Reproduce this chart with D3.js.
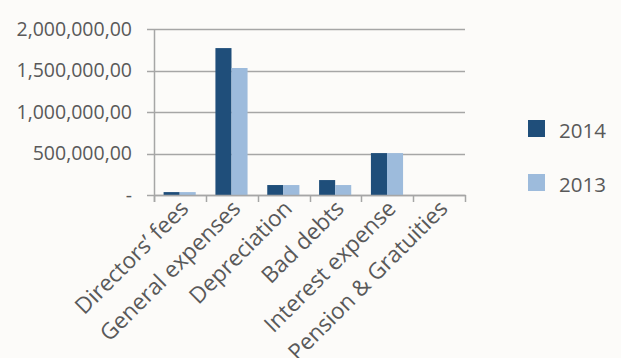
<!DOCTYPE html>
<html>
<head>
<meta charset="utf-8">
<script src="https://cdn.jsdelivr.net/npm/d3@7"></script>
<style>
  html, body { margin: 0; padding: 0; background: #fcfbf9; }
  svg { display: block; }
  text { font-family: "Open Sans", "Noto Sans", sans-serif; fill: #595959; }
</style>
</head>
<body>
<svg id="chart" width="621" height="358"></svg>
<script>
// Expense categories and yearly amounts
const categories = ["Directors’ fees", "General expenses", "Depreciation", "Bad debts", "Interest expense", "Pension & Gratuities"];
const seriesNames = ["2014", "2013"];
const values2014 = [35000, 1770000, 120000, 180000, 505000, 0];
const values2013 = [35000, 1530000, 120000, 120000, 505000, 0];
const yTicks = [0, 500000, 1000000, 1500000, 2000000];
const yTickLabels = ["-", "500,000,00", "1,000,000,00", "1,500,000,00", "2,000,000,00"];
const colors = ["#1f4e7a", "#9dbbdc"];

const svg = d3.select("#chart");
const plot = { left: 154, right: 465, top: 29, bottom: 195 };

const x = d3.scaleBand().domain(categories).range([plot.left, plot.right]).padding(0);
const bw = x.bandwidth();
const xs = d3.scaleBand().domain(seriesNames).range([bw * 0.185, bw * 0.805]).padding(0);
const y = d3.scaleLinear().domain([0, 2000000]).range([plot.bottom, plot.top]);

const grid = "#a6a6a6";

// Horizontal gridlines, extending slightly left as tick marks
svg.append("g")
  .selectAll("line")
  .data(yTicks)
  .join("line")
  .attr("x1", plot.left - 7)
  .attr("x2", plot.right)
  .attr("y1", d => Math.round(y(d)) + 0.5)
  .attr("y2", d => Math.round(y(d)) + 0.5)
  .attr("stroke", grid)
  .attr("stroke-width", 1.3);

// Y tick labels
svg.append("g")
  .selectAll("text")
  .data(yTicks)
  .join("text")
  .attr("x", 132)
  .attr("y", d => y(d))
  .attr("dy", "0.35em")
  .attr("text-anchor", "end")
  .attr("font-size", 19.5)
  .text((d, i) => yTickLabels[i]);

// Bars
const rows = categories.map((c, i) => ({ cat: c, vals: [values2014[i], values2013[i]] }));
const groups = svg.append("g")
  .selectAll("g")
  .data(rows)
  .join("g")
  .attr("transform", d => `translate(${x(d.cat)},0)`);

groups.selectAll("rect")
  .data(d => d.vals.map((v, j) => ({ key: seriesNames[j], v, j })))
  .join("rect")
  .attr("x", d => xs(d.key))
  .attr("width", xs.bandwidth())
  .attr("y", d => y(d.v))
  .attr("height", d => y(0) - y(d.v))
  .attr("fill", d => colors[d.j]);

// Left axis line
svg.append("line")
  .attr("x1", plot.left + 0.5).attr("x2", plot.left + 0.5)
  .attr("y1", plot.top).attr("y2", plot.bottom + 7)
  .attr("stroke", grid).attr("stroke-width", 1.5);

// Bottom axis with category separators
const xAxis = svg.append("g");
xAxis.append("line")
  .attr("x1", plot.left).attr("x2", plot.right + 1)
  .attr("y1", plot.bottom + 0.5).attr("y2", plot.bottom + 0.5)
  .attr("stroke", grid).attr("stroke-width", 1.5);
const edges = categories.map(c => x(c)).concat([plot.right]);
xAxis.selectAll("line.sep")
  .data(edges)
  .join("line")
  .attr("class", "sep")
  .attr("x1", d => Math.round(d) + 0.5)
  .attr("x2", d => Math.round(d) + 0.5)
  .attr("y1", plot.bottom)
  .attr("y2", plot.bottom + 7)
  .attr("stroke", grid).attr("stroke-width", 1.5);

// Rotated category labels
svg.append("g")
  .selectAll("text")
  .data(categories)
  .join("text")
  .attr("text-anchor", "end")
  .attr("font-size", 22.5)
  .attr("transform", d => `translate(${x(d) + bw / 2 + 10},${plot.bottom + 15}) rotate(-45)`)
  .text(d => d);

// Legend
const legend = svg.append("g")
  .selectAll("g")
  .data(seriesNames)
  .join("g")
  .attr("transform", (d, i) => `translate(528,${120 + i * 54})`);
legend.append("rect")
  .attr("width", 17).attr("height", 17)
  .attr("fill", (d, i) => colors[i]);
legend.append("text")
  .attr("x", 31).attr("y", 17.5)
  .attr("font-size", 20.5)
  .text(d => d);
</script>
</body>
</html>
